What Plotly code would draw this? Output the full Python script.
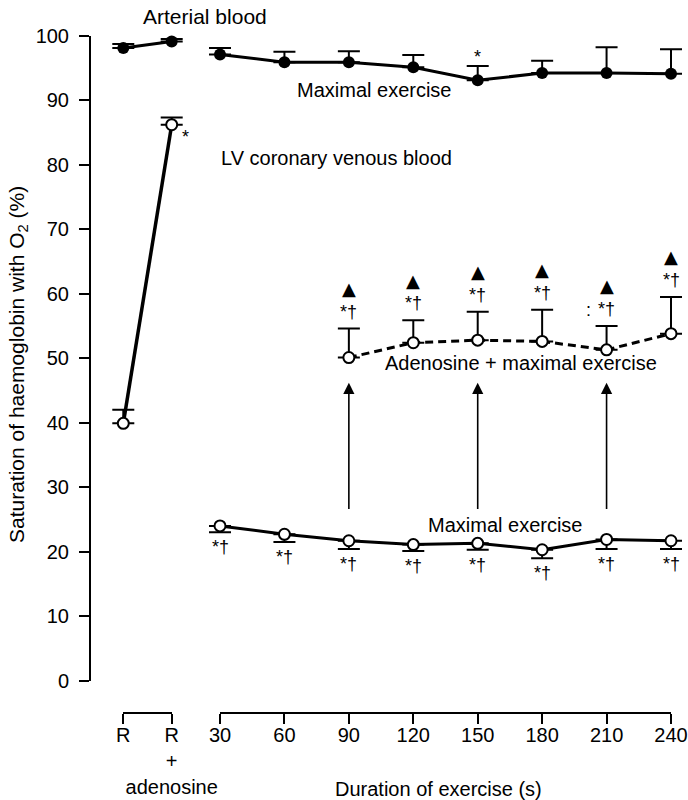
import plotly.graph_objects as go

# ---------------- data ----------------
base_labels = ["R", "R<br>+<br>adenosine"]
base_pos = [0, 1]
times = [30, 60, 90, 120, 150, 180, 210, 240]

art_base = [98.1, 99.1]
art_base_err = [0.6, 0.4]
art_ex = [97.1, 95.9, 95.9, 95.1, 93.1, 94.2, 94.2, 94.1]
art_ex_err = [1.0, 1.6, 1.7, 1.9, 2.2, 1.9, 4.0, 3.8]

ven_base = [39.9, 86.2]
ven_base_err = [2.1, 1.1]
ven_ex = [24.0, 22.7, 21.7, 21.1, 21.3, 20.3, 21.9, 21.7]
ven_ex_err = [1.0, 1.2, 1.3, 1.0, 1.0, 1.3, 1.5, 1.3]

ado_times = [90, 120, 150, 180, 210, 240]
ado_ex = [50.1, 52.4, 52.8, 52.6, 51.3, 53.8]
ado_ex_err = [4.5, 3.5, 4.4, 4.9, 3.7, 5.7]

arrow_times = [90, 150, 210]
arrow_from = 26.4
arrow_to = 46.2

y_ticks = list(range(0, 101, 10))

# ---------------- layout helpers ----------------
W, H = 688, 800
FONT = "Liberation Sans, Arial, sans-serif"


def px(x):
    return x / W


def py(y):
    return 1 - y / H


# pixel extents of the visible axis segments
R_L, R_R = 123.3, 171.7
E_L, E_R = 220.0, 671.0
# wider invisible data axes so that caps/markers at the ends are not clipped
R_DL, R_DR = 100.0, 195.0
E_DL, E_DR = 203.0, 686.0
r_scale = (R_R - R_L) / (base_pos[1] - base_pos[0])
e_scale = (E_R - E_L) / (times[-1] - times[0])
r_range = [base_pos[0] - (R_L - R_DL) / r_scale,
           base_pos[1] + (R_DR - R_R) / r_scale]
e_range = [times[0] - (E_L - E_DL) / e_scale,
           times[-1] + (E_DR - E_R) / e_scale]

fig = go.Figure()

err_style = dict(color="black", thickness=2, width=11)

# Arterial blood
fig.add_trace(go.Scatter(
    x=base_pos, y=art_base, xaxis="x", yaxis="y", mode="lines+markers",
    line=dict(color="black", width=3),
    marker=dict(color="black", size=12),
    error_y=dict(type="data", symmetric=False, array=art_base_err,
                 arrayminus=[0] * len(art_base), **err_style),
    cliponaxis=False, showlegend=False))
fig.add_trace(go.Scatter(
    x=times, y=art_ex, xaxis="x2", yaxis="y", mode="lines+markers",
    line=dict(color="black", width=3),
    marker=dict(color="black", size=12),
    error_y=dict(type="data", symmetric=False, array=art_ex_err,
                 arrayminus=[0] * len(art_ex), **err_style),
    cliponaxis=False, showlegend=False))

# LV coronary venous blood
open_marker = dict(color="white", size=11, line=dict(color="black", width=2))
fig.add_trace(go.Scatter(
    x=base_pos, y=ven_base, xaxis="x", yaxis="y", mode="lines+markers",
    line=dict(color="black", width=3.5),
    marker=open_marker,
    error_y=dict(type="data", symmetric=False, array=ven_base_err,
                 arrayminus=[0] * len(ven_base), **err_style),
    cliponaxis=False, showlegend=False))
fig.add_trace(go.Scatter(
    x=times, y=ven_ex, xaxis="x2", yaxis="y", mode="lines+markers",
    line=dict(color="black", width=3),
    marker=open_marker,
    error_y=dict(type="data", symmetric=False, array=[0] * len(ven_ex),
                 arrayminus=ven_ex_err, **err_style),
    cliponaxis=False, showlegend=False))
fig.add_trace(go.Scatter(
    x=ado_times, y=ado_ex, xaxis="x2", yaxis="y", mode="lines+markers",
    line=dict(color="black", width=3, dash="8px,5px"),
    marker=open_marker,
    error_y=dict(type="data", symmetric=False, array=ado_ex_err,
                 arrayminus=[0] * len(ado_ex), **err_style),
    cliponaxis=False, showlegend=False))

# empty traces so the visible (broken) x-axis segments get drawn
for xa, xs in (("x3", base_pos), ("x4", times)):
    fig.add_trace(go.Scatter(x=xs, y=[None] * len(xs), xaxis=xa, yaxis="y",
                             mode="markers", showlegend=False,
                             hoverinfo="skip"))

ann = []


def label(text, x, y, size=20, **kw):
    d = dict(text=text, x=px(x), y=py(y), xref="paper", yref="paper",
             showarrow=False, xanchor="center", yanchor="middle",
             font=dict(family=FONT, size=size, color="black"))
    d.update(kw)
    ann.append(d)


label("Arterial blood", 205, 16, size=21)
label("Maximal exercise", 374, 90)
label("LV coronary venous blood", 336, 158)
label("Adenosine + maximal exercise", 521, 363)
label("Maximal exercise", 505, 525)
label("Duration of exercise (s)", 438, 789)
label("Saturation of haemoglobin with O<sub>2</sub> (%)", 18, 365, size=21,
      textangle=-90)

sym_font = dict(family=FONT, size=18, color="black")

# significance marks
for t, v, e in zip(times, ven_ex, ven_ex_err):
    ann.append(dict(text="*†", x=t, y=v - e, xref="x2", yref="y",
                    showarrow=False, yshift=-15, font=sym_font))
for t, v, e in zip(ado_times, ado_ex, ado_ex_err):
    ann.append(dict(text="*†", x=t, y=v + e, xref="x2", yref="y",
                    showarrow=False, yshift=17, font=sym_font))
    ann.append(dict(text="▲", x=t, y=v + e, xref="x2", yref="y",
                    showarrow=False, yshift=40,
                    font=dict(family="DejaVu Sans", size=18, color="black")))
ann.append(dict(text=":", x=ado_times[4], y=ado_ex[4] + ado_ex_err[4],
                xref="x2", yref="y", showarrow=False, xshift=-18, yshift=16,
                font=sym_font))
ann.append(dict(text="*", x=times[4], y=art_ex[4] + art_ex_err[4],
                xref="x2", yref="y", showarrow=False, yshift=9, font=sym_font))
ann.append(dict(text="*", x=base_pos[1], y=ven_base[1], xref="x", yref="y",
                showarrow=False, xshift=14, yshift=-12, font=sym_font))

# arrows
for t in arrow_times:
    ann.append(dict(text="", x=t, y=arrow_to, ax=t, ay=arrow_from,
                    xref="x2", yref="y", axref="x2", ayref="y",
                    showarrow=True, arrowhead=2, arrowsize=1.4,
                    arrowwidth=1.6, arrowcolor="black", standoff=0))

ax_common = dict(showgrid=False, zeroline=False, automargin=False,
                 tickfont=dict(family=FONT, size=20, color="black"))
hidden = dict(showgrid=False, zeroline=False, automargin=False,
              showline=False, showticklabels=False, ticks="")

y_dom = [py(680.7), py(35.7)]
x_pos = py(712.7)

vis_out = dict(anchor="free", position=x_pos, showline=True, linewidth=2,
               linecolor="black", ticks="outside", ticklen=10, tickwidth=2,
               tickcolor="black", ticklabelstandoff=-6, tickangle=0,
               tickmode="array", **ax_common)
vis_in = dict(anchor="free", position=x_pos, showline=False,
              showticklabels=False, ticks="inside", ticklen=10, tickwidth=2,
              tickcolor="black", tickmode="array", **ax_common)

fig.update_layout(
    width=W, height=H, margin=dict(l=0, r=0, t=0, b=0),
    paper_bgcolor="white", plot_bgcolor="rgba(0,0,0,0)",
    font=dict(family=FONT, color="black"),
    # data axes (invisible)
    xaxis=dict(domain=[px(R_DL), px(R_DR)], range=r_range,
               anchor="free", position=x_pos, **hidden),
    xaxis2=dict(domain=[px(E_DL), px(E_DR)], range=e_range,
                anchor="free", position=x_pos, **hidden),
    # visible broken x axis
    xaxis3=dict(domain=[px(R_L), px(R_R)], range=[base_pos[0], base_pos[1]],
                tickvals=base_pos, ticktext=base_labels, **vis_out),
    xaxis4=dict(domain=[px(E_L), px(E_R)], range=[times[0], times[-1]],
                tickvals=times, **vis_out),
    xaxis5=dict(overlaying="x3", range=[base_pos[0], base_pos[1]],
                tickvals=base_pos, **vis_in),
    xaxis6=dict(overlaying="x4", range=[times[0], times[-1]],
                tickvals=times, **vis_in),
    yaxis=dict(domain=y_dom, range=[0, 100], tickmode="array",
               tickvals=y_ticks, anchor="free", position=px(90),
               showline=True, linewidth=2, linecolor="black",
               ticks="outside", ticklen=10, tickwidth=2, tickcolor="black",
               ticklabelstandoff=6, **ax_common),
    yaxis2=dict(overlaying="y", range=[0, 100], tickmode="array",
                tickvals=y_ticks, showticklabels=False, anchor="free",
                position=px(90), showline=False, ticks="inside", ticklen=10,
                tickwidth=2, tickcolor="black", **ax_common),
    annotations=ann,
)

fig.write_html("out.html")
